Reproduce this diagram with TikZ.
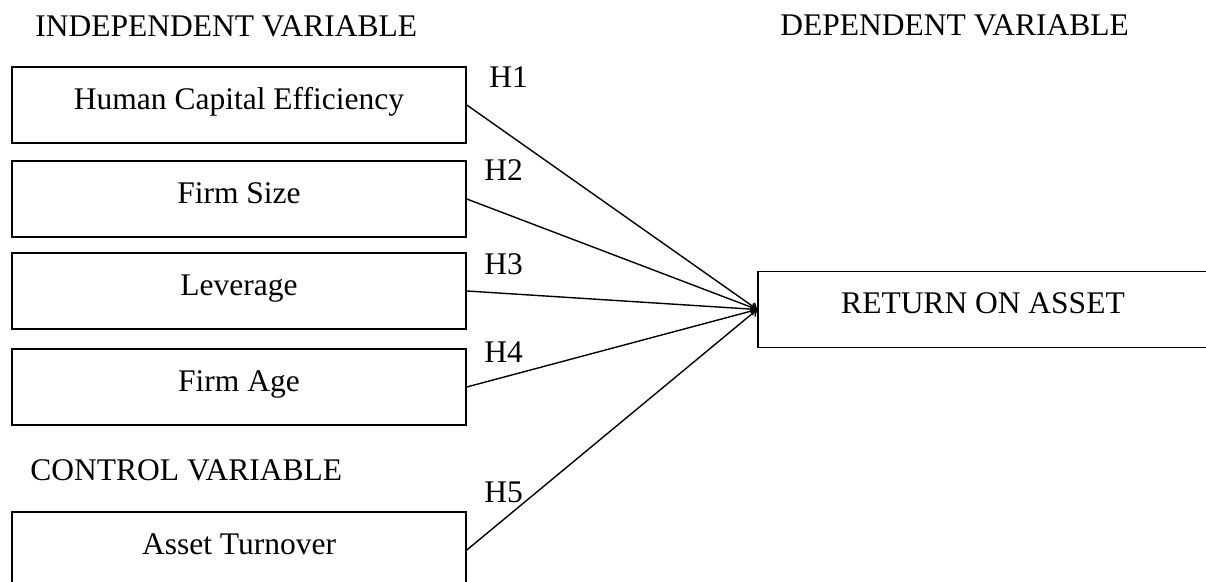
\documentclass[tikz,border=0pt]{standalone}
\usepackage{fontspec}
\setmainfont{Liberation Serif}
\usetikzlibrary{arrows.meta,positioning}
\tikzset{
  heading/.style={anchor=base west, inner sep=0pt},
  hyptext/.style={anchor=base west, inner sep=0pt},
  varbox/.style={draw, line width=0.8pt, minimum width=227pt, minimum height=38pt,
    inner sep=0pt, text height=10.5pt, text depth=6pt},
  link/.style={line width=0.7pt, -{Straight Barb[length=2.5pt,width=4pt]}}
}

\begin{document}
\begin{tikzpicture}[x=0.5pt, y=-0.5pt, font=\fontsize{15.75}{19}\selectfont]
    \useasboundingbox (0,0) rectangle (1206,582);
    \clip (0,0) rectangle (1206,582);
    % headings
    \node[heading] (indep) at (35,37) {INDEPENDENT VARIABLE};
    \node[heading] (dep) at (780,36) {DEPENDENT VARIABLE};
    \node[heading] (ctrl) at (30,481) {CONTROL VARIABLE};
    % variables
    \node[varbox] (hce) at (239,105) {Human Capital Efficiency};
    \node[varbox] (size) at (239,199) {Firm Size};
    \node[varbox] (lev) at (239,291) {Leverage};
    \node[varbox] (age) at (239,387) {Firm Age};
    \node[varbox] (ato) at (239,550) {Asset Turnover};
    \node[varbox, minimum width=225pt] (roa) at (983,309.5) {RETURN ON ASSET};
    % hypotheses
    \foreach \v in {hce,size,lev,age,ato}
        \draw[link] (\v.east) -- (roa.west);
    \node[hyptext] (h1) at (489,88) {H1};
    \node[hyptext] (h2) at (484,181) {H2};
    \node[hyptext] (h3) at (484,275) {H3};
    \node[hyptext] (h4) at (484,363) {H4};
    \node[hyptext] (h5) at (484,503) {H5};
\end{tikzpicture}
\end{document}
